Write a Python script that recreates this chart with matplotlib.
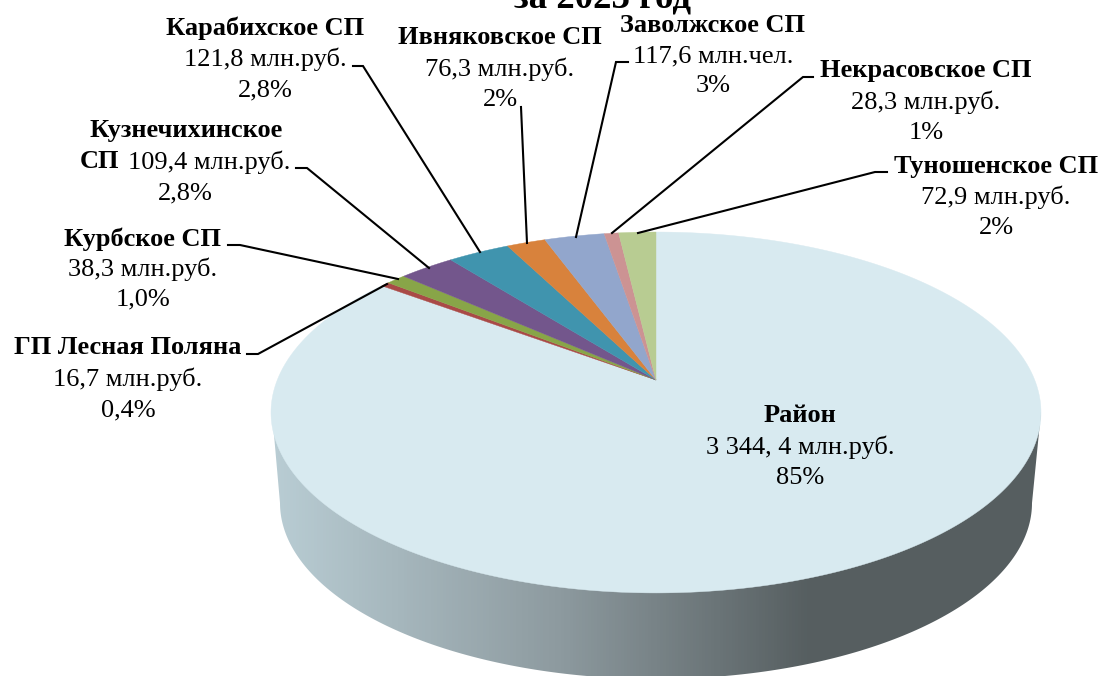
#!/usr/bin/env python3
"""
Объемная круговая диаграмма: доходы по поселениям -> out.png
"""
import numpy as np
import matplotlib
matplotlib.use("Agg")
import matplotlib.pyplot as plt
from matplotlib.colors import LinearSegmentedColormap
from matplotlib.patches import Polygon

names = ["Район", "ГП Лесная Поляна", "Курбское СП", "Кузнечихинское СП", "Карабихское СП",
         "Ивняковское СП", "Заволжское СП", "Некрасовское СП", "Туношенское СП"]
values = [3344.4, 16.7, 38.3, 109.4, 121.8, 76.3, 117.6, 28.3, 72.9]
value_text = ["3 344, 4 млн.руб.", "16,7 млн.руб.", "38,3 млн.руб.", "109,4 млн.руб.", "121,8 млн.руб.",
              "76,3 млн.руб.", "117,6 млн.чел.", "28,3 млн.руб.", "72,9 млн.руб."]
percent_text = ["85%", "0,4%", "1,0%", "2,8%", "2,8%", "2%", "3%", "1%", "2%"]
colors = ["#D8EAF0", "#A94A47", "#88A548", "#73568C", "#4094AE",
          "#D8823C", "#92A6CC", "#CC9393", "#B8CC92"]

# layout in pixels of the 1101x676 picture
W, H = 1101, 676
CX, CY = 656, 380        # centre of the pie as seen in perspective
A, B, K = 378.7, 174.6, 0.18
FS = 19
label_xy = [(800, 416, 31), (128, 348, 31), (143, 239, 30), (185, 131, 31), (265, 28, 31),
            (500, 38, 31), (713, 26, 30), (926, 71, 31), (996, 166, 31)]
leaders = [None,
           [(247, 354), (258, 354), (387, 284)],
           [(228, 245), (240, 245), (398, 279)],
           [(296, 168), (307, 168), (429, 268)],
           [(353, 66), (363, 66), (480, 252)],
           [(521, 107), (527, 243)],
           [(628, 62), (616, 62), (576, 237)],
           [(813, 77), (803, 77), (612, 233)],
           [(887, 172), (875, 172), (638, 233)]]

plt.rcParams["font.family"] = ["Liberation Serif", "DejaVu Serif"]


def rim(theta):
    # точка на окружности -> экран, с перспективой (дальний край меньше)
    u, v = np.sin(theta), np.cos(theta)
    w = 1 + K * v
    return CX + A * u / w, CY - B * v / w


fig = plt.figure(figsize=(W / 100, H / 100), dpi=100)
ax = fig.add_axes([0, 0, 1, 1])

# --- side of the cylinder, gradient clipped to its outline ---
t = np.linspace(np.pi, 2 * np.pi, 200)
side_x = np.r_[272, 656 + 376 * np.cos(t), 1041]
side_y = np.r_[412, 503 - 176 * np.sin(t), 412]
side = Polygon(np.c_[side_x, side_y], closed=True, fc="none", ec="none")
ax.add_patch(side)
cmap = LinearSegmentedColormap.from_list(
    "side", [(0, "#B9CDD4"), (0.374, "#8D9A9F"), (0.70, "#565E60"), (1, "#565E60")], N=256)
grad = ax.imshow(np.linspace(0, 1, 256)[None, :], extent=(272, 1042, H + 30, 380), cmap=cmap,
                 aspect="auto", zorder=1)
grad.set_clip_path(side)

# --- top of the pie ---
edges = np.r_[0, np.cumsum(values)] / np.sum(values) * 2 * np.pi
for i, c in enumerate(colors):
    th = np.linspace(edges[i], edges[i + 1], max(3, int((edges[i + 1] - edges[i]) * 120)))
    x, y = rim(th)
    ax.add_patch(Polygon(np.c_[np.r_[CX, x], np.r_[CY, y]], closed=True, fc=c, ec=c, lw=0.3, zorder=2))

# --- labels and leader lines ---
for i, name in enumerate(names):
    lx, ly, step = label_xy[i]
    if name == "Кузнечихинское СП":
        ax.text(lx + 1, ly, "Кузнечихинское", ha="center", va="center", fontsize=FS, fontweight="bold", zorder=4)
        ax.text(119, ly + step, "СП", ha="right", va="center", fontsize=FS, fontweight="bold", zorder=4)
        ax.text(128, ly + step, value_text[i], ha="left", va="center", fontsize=FS, zorder=4)
    else:
        ax.text(lx, ly, name, ha="center", va="center", fontsize=FS, fontweight="bold", zorder=4)
        ax.text(lx, ly + step, value_text[i], ha="center", va="center", fontsize=FS, zorder=4)
    ax.text(lx, ly + 2 * step, percent_text[i], ha="center", va="center", fontsize=FS, zorder=4)
    if leaders[i] is not None:
        px, py = zip(*leaders[i])
        ax.plot(px, py, color="black", lw=1.5, solid_joinstyle="miter", zorder=3)

# title is cut by the top edge in the source picture
ax.text(603, 7, "за 2023 год", ha="center", va="baseline", fontsize=26.5, fontweight="bold", zorder=4)

ax.set_xlim(0, W)
ax.set_ylim(H, 0)
ax.axis("off")
fig.savefig("out.png", dpi=100)
plt.close(fig)
